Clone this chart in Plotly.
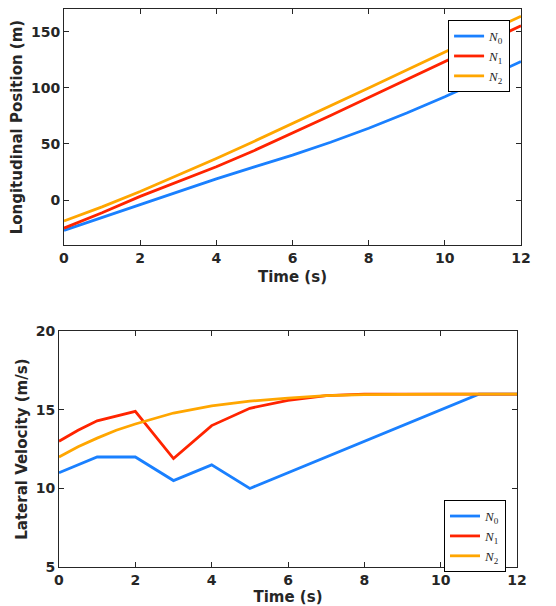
import plotly.graph_objects as go

# time samples (s)
t = [0, 1, 2, 3, 4, 5, 6, 7, 8, 9, 10, 11, 12]

# longitudinal position (m)
pos_n0 = [-27, -15.5, -3.5, 7.8, 18.8, 29.5, 40, 51.5, 64, 77.5, 92, 107.5, 123.5]
pos_n1 = [-25, -11.3, 3.3, 16.7, 29.7, 44.2, 59.6, 75.3, 91.3, 107.3, 123.3, 139.3, 155.3]
pos_n2 = [-18.7, -6.1, 7.6, 22, 37, 52.4, 68, 83.9, 99.8, 115.8, 131.8, 147.8, 163.8]

# lateral velocity (m/s)
vel_t = [0, 0.5, 1, 1.5, 2, 3, 4, 5, 6, 7, 8, 9, 10, 11, 12]
vel_n0 = [11, 11.5, 12, 12, 12, 10.5, 11.5, 10, 11, 12, 13, 14, 15, 16, 16]
vel_n1 = [13, 13.7, 14.3, 14.6, 14.9, 11.9, 14, 15.1, 15.6, 15.9, 16, 16, 16, 16, 16]
vel_n2 = [12, 12.65, 13.2, 13.7, 14.1, 14.8, 15.25, 15.55, 15.75, 15.9, 15.97, 16, 16, 16, 16]

names = ['<i>N</i><sub>0</sub>', '<i>N</i><sub>1</sub>', '<i>N</i><sub>2</sub>']
colors = ['#1a80ff', '#ff2400', '#ffa600']

fig = go.Figure()
for y, name, c in zip([pos_n0, pos_n1, pos_n2], names, colors):
    fig.add_trace(go.Scatter(x=t, y=y, mode='lines', name=name,
                             line=dict(color=c, width=2.8),
                             xaxis='x', yaxis='y', legend='legend'))
for y, name, c in zip([vel_n0, vel_n1, vel_n2], names, colors):
    fig.add_trace(go.Scatter(x=vel_t, y=y, mode='lines', name=name,
                             line=dict(color=c, width=2.8),
                             xaxis='x2', yaxis='y2', legend='legend2'))

tickfont = dict(family='DejaVu Sans', size=14, color='#262626', weight='bold')
titlefont = dict(family='DejaVu Sans', size=15, color='#262626', weight='bold')
axis_style = dict(showline=True, linecolor='#262626', linewidth=1, mirror='ticks',
                  ticks='inside', ticklen=5, tickcolor='#262626', showgrid=False,
                  zeroline=False, tickfont=tickfont, automargin=False)

legend_style = dict(bgcolor='white', bordercolor='black', borderwidth=1,
                    font=dict(family='Liberation Serif', size=13, color='#262626'),
                    xanchor='right', yanchor='top', tracegroupgap=0)

fig.update_layout(
    width=556, height=606,
    margin=dict(l=0, r=0, t=0, b=0),
    plot_bgcolor='white', paper_bgcolor='white',
    xaxis=dict(domain=[0.1007, 0.9227], range=[0, 12], dtick=2, anchor='y',
               title=dict(text='Time (s)', font=titlefont, standoff=6), **axis_style),
    yaxis=dict(domain=[0.609, 0.998], range=[-40, 170], tickvals=[0, 50, 100, 150], anchor='x',
               title=dict(text='Longitudinal Position (m)', font=titlefont, standoff=4), **axis_style),
    xaxis2=dict(domain=[0.0917, 0.9155], range=[0, 12], dtick=2, anchor='y2',
                title=dict(text='Time (s)', font=titlefont, standoff=2), **axis_style),
    yaxis2=dict(domain=[0.0776, 0.4665], range=[5, 20], dtick=5, anchor='x2',
                title=dict(text='Lateral Velocity (m/s)', font=titlefont, standoff=4), **axis_style),
    legend=dict(x=0.903, y=0.980, **legend_style),
    legend2=dict(x=0.8957, y=0.188, **legend_style),
)

fig.write_html('out.html')
